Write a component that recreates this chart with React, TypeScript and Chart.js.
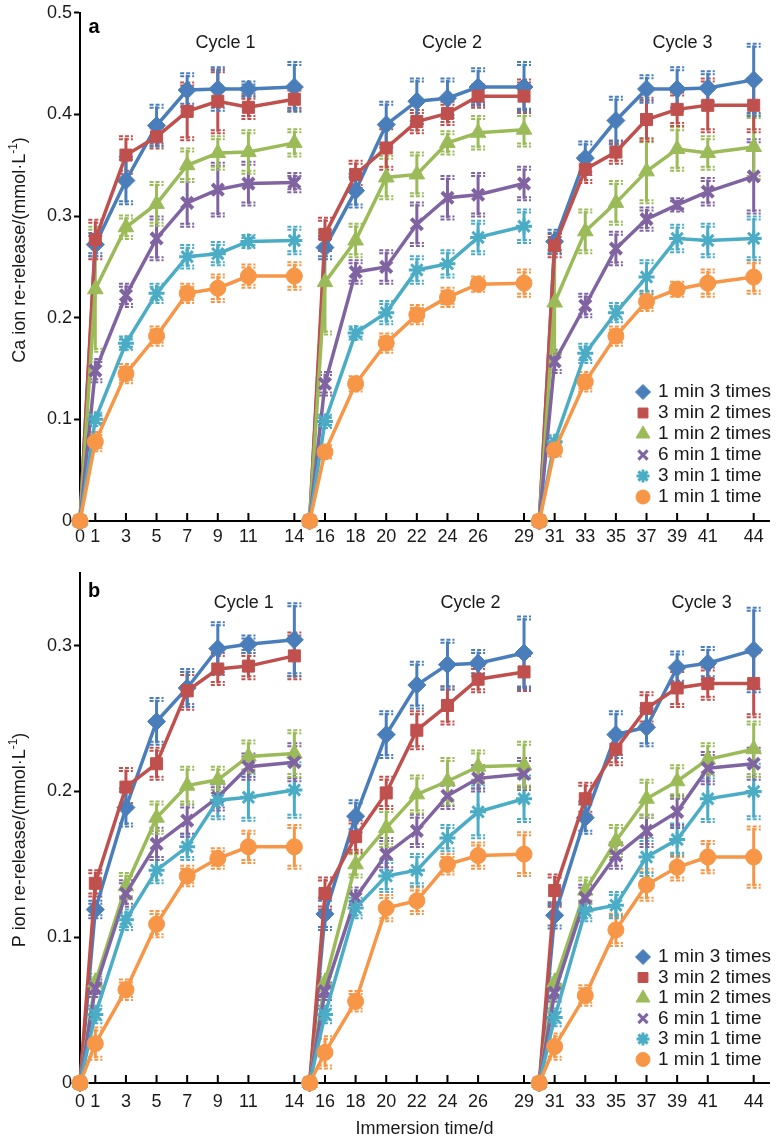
import React, { useEffect, useRef } from 'react';
import { Chart, registerables } from 'chart.js';
import { drawPoint } from 'chart.js/helpers';

Chart.register(...registerables);

const FONT = '"Liberation Sans", Arial, Helvetica, sans-serif';
const TEXT = '#1a1a1a';

// ---------- categories / ticks ----------
const SERIES_LABELS = ['1 min 3 times', '3 min 2 times', '1 min 2 times', '6 min 1 time', '3 min 1 time', '1 min 1 time'];
const SERIES_COLORS = ['#4A7EBB', '#C0504D', '#9BBB59', '#8064A2', '#4BACC6', '#F79646'];
const SERIES_MARKERS = ['rectRot', 'rect', 'triangle', 'crossRot', 'star', 'circle'];
const CYCLE_DAYS = [
  [0, 1, 3, 5, 7, 9, 11, 14],
  [15, 16, 18, 20, 22, 24, 26, 29],
  [30, 31, 33, 35, 37, 39, 41, 44],
];
const CYCLE_NAMES = ['Cycle 1', 'Cycle 2', 'Cycle 3'];
const X_TICKS = [0, 1, 3, 5, 7, 9, 11, 14, 16, 18, 20, 22, 24, 26, 29, 31, 33, 35, 37, 39, 41, 44];
const CA_Y_TICKS = [0, 0.1, 0.2, 0.3, 0.4, 0.5];
const P_Y_TICKS = [0, 0.1, 0.2, 0.3];

// ---------- panel a: Ca ion re-release (mmol/L), per cycle ----------
const CA_1MIN_3X = [[0, 0.272, 0.335, 0.389, 0.424, 0.425, 0.425, 0.427], [0, 0.269, 0.325, 0.390, 0.413, 0.416, 0.427, 0.427], [0, 0.275, 0.357, 0.394, 0.425, 0.425, 0.426, 0.434]];
const CA_3MIN_2X = [[0, 0.277, 0.360, 0.378, 0.403, 0.413, 0.407, 0.415], [0, 0.282, 0.341, 0.367, 0.393, 0.401, 0.418, 0.418], [0, 0.271, 0.346, 0.363, 0.395, 0.405, 0.409, 0.409]];
const CA_1MIN_2X = [[0, 0.228, 0.289, 0.312, 0.350, 0.362, 0.363, 0.372], [0, 0.235, 0.276, 0.338, 0.341, 0.372, 0.382, 0.385], [0, 0.215, 0.285, 0.313, 0.344, 0.366, 0.362, 0.368]];
const CA_6MIN_1X = [[0, 0.148, 0.222, 0.278, 0.313, 0.326, 0.332, 0.333], [0, 0.135, 0.245, 0.250, 0.292, 0.318, 0.321, 0.332], [0, 0.157, 0.212, 0.268, 0.297, 0.311, 0.324, 0.339]];
const CA_3MIN_1X = [[0, 0.100, 0.175, 0.224, 0.260, 0.263, 0.275, 0.276], [0, 0.098, 0.185, 0.205, 0.247, 0.253, 0.279, 0.290], [0, 0.078, 0.165, 0.205, 0.240, 0.278, 0.276, 0.278]];
const CA_1MIN_1X = [[0, 0.078, 0.145, 0.182, 0.224, 0.229, 0.241, 0.241], [0, 0.068, 0.135, 0.175, 0.203, 0.220, 0.233, 0.234], [0, 0.070, 0.137, 0.182, 0.216, 0.228, 0.234, 0.240]];

const CA_1MIN_3X_ERR = [[0, 0.010, 0.022, 0.019, 0.015, 0.020, 0.006, 0.023], [0, 0.010, 0.015, 0.021, 0.021, 0.018, 0.017, 0.023], [0, 0.010, 0.015, 0.022, 0.012, 0.020, 0.015, 0.034]];
const CA_3MIN_2X_ERR = [[0, 0.018, 0.017, 0.010, 0.027, 0.030, 0.010, 0.010], [0, 0.015, 0.012, 0.020, 0.010, 0.010, 0.010, 0.015], [0, 0.010, 0.012, 0.010, 0.020, 0.015, 0.025, 0.025]];
const CA_1MIN_2X_ERR = [[0, 0.060, 0.010, 0.020, 0.015, 0.015, 0.020, 0.012], [0, 0.050, 0.015, 0.020, 0.020, 0.010, 0.015, 0.015], [0, 0.050, 0.020, 0.020, 0.030, 0.020, 0.015, 0.030]];
const CA_6MIN_1X_ERR = [[0, 0.010, 0.010, 0.020, 0.022, 0.025, 0.020, 0.008], [0, 0.010, 0.010, 0.015, 0.020, 0.020, 0.020, 0.015], [0, 0.010, 0.010, 0.015, 0.010, 0.005, 0.012, 0.035]];
const CA_3MIN_1X_ERR = [[0, 0.005, 0.005, 0.008, 0.010, 0.010, 0.005, 0.012], [0, 0.005, 0.005, 0.010, 0.012, 0.012, 0.015, 0.015], [0, 0.005, 0.008, 0.008, 0.015, 0.012, 0.015, 0.020]];
const CA_1MIN_1X_ERR = [[0, 0.008, 0.008, 0.008, 0.008, 0.012, 0.010, 0.012], [0, 0.005, 0.006, 0.008, 0.008, 0.008, 0.006, 0.012], [0, 0.005, 0.008, 0.008, 0.008, 0.006, 0.012, 0.015]];

// ---------- panel b: P ion re-release (mmol/L), per cycle ----------
const P_1MIN_3X = [[0, 0.119, 0.189, 0.248, 0.271, 0.298, 0.301, 0.304], [0, 0.116, 0.183, 0.239, 0.273, 0.287, 0.288, 0.295], [0, 0.115, 0.182, 0.239, 0.244, 0.285, 0.288, 0.297]];
const P_3MIN_2X = [[0, 0.137, 0.203, 0.219, 0.269, 0.284, 0.286, 0.293], [0, 0.130, 0.169, 0.199, 0.242, 0.259, 0.277, 0.282], [0, 0.132, 0.195, 0.229, 0.257, 0.271, 0.274, 0.274]];
const P_1MIN_2X = [[0, 0.069, 0.135, 0.182, 0.204, 0.208, 0.224, 0.226], [0, 0.069, 0.150, 0.175, 0.198, 0.207, 0.217, 0.218], [0, 0.069, 0.132, 0.166, 0.195, 0.207, 0.222, 0.229]];
const P_6MIN_1X = [[0, 0.065, 0.130, 0.164, 0.180, 0.196, 0.217, 0.220], [0, 0.063, 0.127, 0.157, 0.173, 0.197, 0.209, 0.212], [0, 0.062, 0.127, 0.156, 0.173, 0.186, 0.216, 0.219]];
const P_3MIN_1X = [[0, 0.047, 0.112, 0.146, 0.162, 0.194, 0.196, 0.201], [0, 0.047, 0.120, 0.142, 0.146, 0.168, 0.186, 0.195], [0, 0.045, 0.118, 0.122, 0.155, 0.167, 0.195, 0.200]];
const P_1MIN_1X = [[0, 0.027, 0.064, 0.109, 0.142, 0.154, 0.162, 0.162], [0, 0.021, 0.056, 0.120, 0.125, 0.150, 0.156, 0.157], [0, 0.025, 0.060, 0.105, 0.136, 0.148, 0.155, 0.155]];

const P_1MIN_3X_ERR = [[0, 0.005, 0.012, 0.015, 0.012, 0.017, 0.005, 0.024], [0, 0.010, 0.010, 0.015, 0.015, 0.016, 0.008, 0.024], [0, 0.008, 0.010, 0.015, 0.012, 0.010, 0.010, 0.028]];
const P_3MIN_2X_ERR = [[0, 0.008, 0.012, 0.010, 0.012, 0.010, 0.008, 0.015], [0, 0.010, 0.010, 0.010, 0.012, 0.012, 0.008, 0.012], [0, 0.010, 0.010, 0.010, 0.010, 0.012, 0.010, 0.022]];
const P_1MIN_2X_ERR = [[0, 0.005, 0.008, 0.010, 0.012, 0.008, 0.010, 0.015], [0, 0.005, 0.008, 0.012, 0.012, 0.015, 0.010, 0.015], [0, 0.005, 0.008, 0.010, 0.012, 0.010, 0.010, 0.018]];
const P_6MIN_1X_ERR = [[0, 0.005, 0.008, 0.010, 0.010, 0.008, 0.008, 0.012], [0, 0.005, 0.006, 0.010, 0.010, 0.008, 0.008, 0.010], [0, 0.005, 0.008, 0.008, 0.010, 0.010, 0.010, 0.010]];
const P_3MIN_1X_ERR = [[0, 0.005, 0.006, 0.008, 0.008, 0.012, 0.015, 0.018], [0, 0.005, 0.006, 0.010, 0.010, 0.008, 0.017, 0.015], [0, 0.005, 0.006, 0.008, 0.012, 0.010, 0.015, 0.018]];
const P_1MIN_1X_ERR = [[0, 0.010, 0.006, 0.008, 0.006, 0.006, 0.010, 0.014], [0, 0.010, 0.006, 0.008, 0.008, 0.006, 0.008, 0.014], [0, 0.008, 0.006, 0.010, 0.010, 0.008, 0.010, 0.020]];

const CA_SERIES = [CA_1MIN_3X, CA_3MIN_2X, CA_1MIN_2X, CA_6MIN_1X, CA_3MIN_1X, CA_1MIN_1X];
const CA_ERRORS = [CA_1MIN_3X_ERR, CA_3MIN_2X_ERR, CA_1MIN_2X_ERR, CA_6MIN_1X_ERR, CA_3MIN_1X_ERR, CA_1MIN_1X_ERR];
const P_SERIES = [P_1MIN_3X, P_3MIN_2X, P_1MIN_2X, P_6MIN_1X, P_3MIN_1X, P_1MIN_1X];
const P_ERRORS = [P_1MIN_3X_ERR, P_3MIN_2X_ERR, P_1MIN_2X_ERR, P_6MIN_1X_ERR, P_3MIN_1X_ERR, P_1MIN_1X_ERR];

const POINT_RADIUS: Record<string, number> = { rectRot: 9, rect: 8.5, triangle: 9, crossRot: 8, star: 8, circle: 8 };
const POINT_BORDER: Record<string, number> = { rectRot: 1, rect: 1, triangle: 1, crossRot: 4, star: 3, circle: 1 };
const LEGEND_RADIUS: Record<string, number> = { rectRot: 7.5, rect: 7, triangle: 8, crossRot: 6.5, star: 6.5, circle: 7 };

function buildDatasets(series: number[][][], errors: number[][][]) {
  return series.map((cycles, s) => {
    const data: { x: number; y: number | null }[] = [];
    const errs: number[] = [];
    cycles.forEach((vals, c) => {
      if (c > 0) {
        data.push({ x: CYCLE_DAYS[c][0] - 0.5, y: null });
        errs.push(0);
      }
      vals.forEach((v, k) => {
        data.push({ x: CYCLE_DAYS[c][k], y: v });
        errs.push(errors[s][c][k]);
      });
    });
    const marker = SERIES_MARKERS[s];
    return {
      label: SERIES_LABELS[s],
      data,
      errors: errs,
      borderColor: SERIES_COLORS[s],
      backgroundColor: SERIES_COLORS[s],
      pointBackgroundColor: SERIES_COLORS[s],
      pointBorderColor: SERIES_COLORS[s],
      borderWidth: 3.5,
      pointStyle: marker,
      pointRadius: POINT_RADIUS[marker],
      pointBorderWidth: POINT_BORDER[marker],
      pointHoverRadius: POINT_RADIUS[marker],
      spanGaps: false,
      tension: 0,
      fill: false,
      clip: false,
      order: 5 - s,
    };
  });
}

const errorBarPlugin = {
  id: 'errorBars',
  beforeDatasetsDraw(chart: any) {
    const { ctx, scales } = chart;
    const yScale = scales.y;
    const xScale = scales.x;
    ctx.save();
    // inward x tick marks
    ctx.strokeStyle = '#000';
    ctx.lineWidth = 2;
    const bottom = chart.chartArea.bottom;
    X_TICKS.forEach((t) => {
      const px = xScale.getPixelForValue(t);
      ctx.beginPath();
      ctx.moveTo(px, bottom);
      ctx.lineTo(px, bottom - 8);
      ctx.stroke();
    });
    for (let i = chart.data.datasets.length - 1; i >= 0; i--) {
      const ds = chart.data.datasets[i];
      const meta = chart.getDatasetMeta(i);
      ctx.strokeStyle = ds.borderColor;
      meta.data.forEach((pt: any, j: number) => {
        const d = ds.data[j];
        const e = ds.errors[j];
        if (!d || d.y == null || !e) return;
        const x = pt.x;
        const yt = yScale.getPixelForValue(d.y + e);
        const yb = yScale.getPixelForValue(d.y - e);
        ctx.setLineDash([]);
        ctx.lineWidth = 3;
        ctx.beginPath();
        ctx.moveTo(x, yt);
        ctx.lineTo(x, yb);
        ctx.stroke();
        ctx.lineWidth = 2;
        ctx.setLineDash([4, 2]);
        [yt - 1.5, yt + 1.5, yb - 1.5, yb + 1.5].forEach((yy) => {
          ctx.beginPath();
          ctx.moveTo(x - 7, yy);
          ctx.lineTo(x + 7, yy);
          ctx.stroke();
        });
      });
    }
    ctx.restore();
  },
};

function drawYTitle(ctx: CanvasRenderingContext2D, cx: number, cy: number, main: string, sup: string, tail: string) {
  ctx.save();
  ctx.translate(cx, cy);
  ctx.rotate(-Math.PI / 2);
  const big = `18px ${FONT}`;
  const small = `12px ${FONT}`;
  ctx.font = big;
  const w1 = ctx.measureText(main).width;
  const w3 = ctx.measureText(tail).width;
  ctx.font = small;
  const w2 = ctx.measureText(sup).width;
  let x0 = -(w1 + w2 + w3) / 2;
  ctx.fillStyle = TEXT;
  ctx.textAlign = 'left';
  ctx.textBaseline = 'middle';
  ctx.font = big;
  ctx.fillText(main, x0, 0);
  x0 += w1;
  ctx.font = small;
  ctx.fillText(sup, x0, -6);
  x0 += w2;
  ctx.font = big;
  ctx.fillText(tail, x0, 0);
  ctx.restore();
}

const decorPlugin = {
  id: 'decor',
  afterDraw(chart: any, _args: any, opts: any) {
    const { ctx, scales } = chart;
    const xScale = scales.x;
    ctx.save();
    // panel letter
    ctx.fillStyle = '#000';
    ctx.font = `bold 20px ${FONT}`;
    ctx.textAlign = 'center';
    ctx.textBaseline = 'middle';
    ctx.fillText(opts.letter, opts.letterX, opts.letterY);
    // cycle labels
    ctx.font = `18px ${FONT}`;
    ctx.fillStyle = TEXT;
    opts.cycleX.forEach((xv: number, i: number) => {
      ctx.fillText(CYCLE_NAMES[i], xScale.getPixelForValue(xv), opts.cycleY);
    });
    // y title
    drawYTitle(ctx, opts.yTitleX, opts.yTitleY, opts.yTitleMain, '-1', ')');
    // x title
    if (opts.xTitle) {
      ctx.font = `18px ${FONT}`;
      ctx.fillStyle = TEXT;
      ctx.textAlign = 'center';
      ctx.textBaseline = 'middle';
      ctx.fillText(opts.xTitle, (chart.chartArea.left + chart.chartArea.right) / 2, opts.xTitleY);
    }
    // legend
    SERIES_LABELS.forEach((lab, i) => {
      const y = opts.legendY + i * opts.legendDy;
      const marker = SERIES_MARKERS[i];
      const cross = marker === 'crossRot' || marker === 'star';
      ctx.save();
      ctx.fillStyle = SERIES_COLORS[i];
      ctx.strokeStyle = SERIES_COLORS[i];
      ctx.lineWidth = cross ? 3 : 1;
      drawPoint(ctx, { pointStyle: marker, radius: LEGEND_RADIUS[marker], rotation: 0, borderWidth: cross ? 3 : 1 } as any, opts.legendX, y);
      ctx.restore();
      ctx.font = `19px ${FONT}`;
      ctx.fillStyle = TEXT;
      ctx.textAlign = 'left';
      ctx.textBaseline = 'middle';
      ctx.fillText(lab, opts.legendX + 15, y);
    });
    ctx.restore();
  },
};

function makeConfig(p: any) {
  return {
    type: 'line',
    data: { datasets: buildDatasets(p.series, p.errors) },
    options: {
      responsive: false,
      animation: false,
      events: [],
      layout: { padding: { top: p.padTop, right: 3, left: 0, bottom: 0 } },
      plugins: {
        legend: { display: false },
        tooltip: { enabled: false },
        decor: p.decor,
      },
      scales: {
        x: {
          type: 'linear',
          min: 0,
          max: 45,
          afterBuildTicks: (s: any) => {
            s.ticks = X_TICKS.map((v) => ({ value: v }));
          },
          afterFit: (s: any) => {
            s.height = p.xHeight;
          },
          grid: { display: false, drawTicks: false, drawOnChartArea: false },
          border: { display: true, color: '#000', width: 2 },
          ticks: {
            autoSkip: false,
            maxRotation: 0,
            minRotation: 0,
            padding: p.xPad,
            color: TEXT,
            font: { family: FONT, size: 18 },
            callback: (v: any) => String(v),
          },
        },
        y: {
          type: 'linear',
          min: 0,
          max: p.yMax,
          afterBuildTicks: (s: any) => {
            s.ticks = p.yTicks.map((v: number) => ({ value: v }));
          },
          afterFit: (s: any) => {
            s.width = 80;
          },
          grid: { display: true, drawOnChartArea: false, drawTicks: true, tickLength: 6, tickWidth: 2, tickColor: '#000' },
          border: { display: true, color: '#000', width: 2 },
          ticks: {
            padding: 2,
            color: TEXT,
            font: { family: FONT, size: 18 },
            callback: (v: any) => (v === 0 ? '0' : Number(v).toFixed(1)),
          },
        },
      },
    },
    plugins: [errorBarPlugin, decorPlugin],
  };
}

const PANEL_A = {
  series: CA_SERIES,
  errors: CA_ERRORS,
  yMax: 0.5,
  yTicks: CA_Y_TICKS,
  padTop: 11,
  xHeight: 39,
  xPad: 5,
  height: 560,
  decor: {
    letter: 'a',
    letterX: 94,
    letterY: 27,
    cycleX: [9.5, 24.3, 39.35],
    cycleY: 43,
    yTitleX: 20,
    yTitleY: 250,
    yTitleMain: 'Ca ion re-release/(mmol·L',
    xTitle: '',
    xTitleY: 0,
    legendX: 643,
    legendY: 392,
    legendDy: 21,
  },
};

const PANEL_B = {
  series: P_SERIES,
  errors: P_ERRORS,
  yMax: 0.35,
  yTicks: P_Y_TICKS,
  padTop: 12,
  xHeight: 57,
  xPad: 8,
  height: 580,
  decor: {
    letter: 'b',
    letterX: 94,
    letterY: 31,
    cycleX: [10.7, 25.5, 40.6],
    cycleY: 43,
    yTitleX: 20,
    yTitleY: 280,
    yTitleMain: 'P ion re-release/(mmol·L',
    xTitle: 'Immersion time/d',
    xTitleY: 569,
    legendX: 643,
    legendY: 397,
    legendDy: 20.5,
  },
};

function Panel({ p }: { p: any }) {
  const ref = useRef<HTMLCanvasElement | null>(null);
  useEffect(() => {
    if (!ref.current) return;
    const chart = new Chart(ref.current, makeConfig(p) as any);
    return () => chart.destroy();
  }, [p]);
  return <canvas ref={ref} width={781} height={p.height} style={{ display: 'block', width: 781, height: p.height }} />;
}

export default function App() {
  return (
    <div style={{ position: 'absolute', left: 0, top: 0, width: 781, height: 1140, background: '#fff', overflow: 'hidden' }}>
      <Panel p={PANEL_A} />
      <Panel p={PANEL_B} />
    </div>
  );
}
